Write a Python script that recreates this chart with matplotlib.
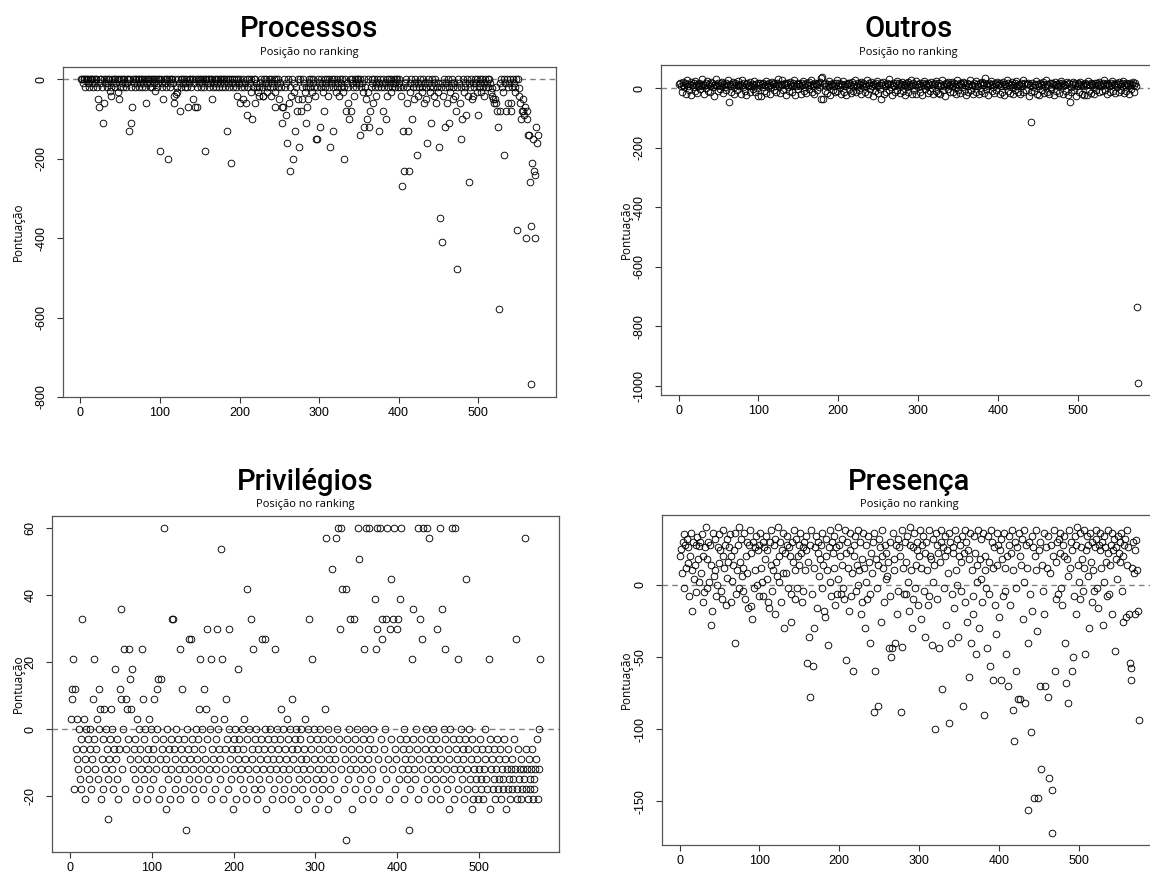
import matplotlib
matplotlib.use("Agg")
import matplotlib.pyplot as plt
import numpy as np

# pontuação por posição no ranking
processos = [
    0, 0, -10, 0, 0, -20, 0, 0, -10, 0, -20, 0, 0, -10, 0, -20, 0, -10, 0, 0, -20, -51, -71, 0, -10,
    0, -20, -111, 0, -61, -10, 0, -20, 0, -10, 0, -30, -20, -42, 0, -10, 0, -20, 0, -10, 0, -32, 0, -51, -20,
    0, -10, 0, -20, 0, -10, -20, 0, -10, 0, -131, 0, -20, -111, -71, 0, -10, 0, -20, 0, -10, 0, 0, -20, -10,
    0, -20, 0, -10, 0, -20, -61, 0, -10, 0, 0, -20, -10, 0, -20, 0, -10, 0, -30, 0, -20, -10, 0, 0, -181,
    0, -10, -20, -51, 0, -10, 0, -20, 0, -201, 0, -10, -20, 0, 0, -10, -61, -42, 0, -36, -20, -32, 0, -10, -81,
    0, -20, 0, -10, 0, -20, -10, 0, -20, -71, 0, -10, 0, -20, 0, -51, 0, -10, -71, 0, -71, -20, 0, -10, 0,
    -20, 0, -10, 0, -20, 0, -181, 0, -10, 0, -20, 0, -10, 0, -51, 0, -20, -10, 0, 0, -20, -10, 0, -20, 0,
    -10, 0, -20, 0, -10, 0, -20, 0, -131, 0, -10, -20, 0, -211, -10, 0, -20, 0, -10, 0, -20, -42, 0, -10, -61,
    0, -20, -10, -51, 0, -20, -10, -61, 0, -91, -20, 0, -10, -32, 0, -101, -20, 0, -61, 0, -10, -20, -32, -42, -20,
    -10, 0, -20, -42, -42, 0, -10, 0, -20, -32, -10, 0, -20, 0, -42, -10, -20, 0, -32, -71, 0, -10, -20, 0, -51,
    -10, -20, -71, -111, -71, 0, -20, -91, -10, -160, 0, -61, -231, -20, -42, 0, -201, -10, -32, -131, -20, -81, 0, -51, -171,
    0, -81, -20, -51, 0, -10, -32, -111, -20, -71, -51, 0, -10, -20, 0, -32, -10, 0, -20, -42, -151, -20, -151, 0, -10,
    -121, -20, 0, -10, -32, -81, 0, -20, -10, 0, -42, -20, 0, -171, -10, 0, -20, -131, 0, -10, -32, -20, 0, -10, -42,
    0, -20, -10, 0, -32, -201, -20, 0, -81, -10, -61, -20, -101, 0, -81, -10, 0, -20, -42, 0, -10, -20, 0, 0, -10,
    -141, 0, -20, -10, -32, 0, -121, -20, -51, -101, 0, -32, -121, -81, -20, 0, -10, -61, 0, -20, -10, -42, 0, -20, -10,
    -131, 0, -20, -10, -81, 0, -20, -10, -101, 0, -42, -20, 0, -10, -32, 0, -20, -10, 0, -20, -10, 0, 0, -20, -10,
    0, -20, -42, -270, -131, -20, -230, -10, 0, -61, -20, -131, -230, -10, -32, 0, -101, -20, -10, -51, 0, -20, -191, -10, -42,
    -20, 0, -10, -32, -20, 0, -61, -10, -20, -51, -160, 0, -10, -32, -20, -111, 0, -20, -10, -42, 0, -61, -20, -10, -32,
    -171, -349, -20, -10, -410, -42, 0, -121, -20, -10, -61, 0, -111, -20, -32, -10, 0, -51, -20, -10, -42, -81, -479, -20, 0,
    -10, -61, -151, -20, -101, 0, -32, -10, -20, -91, 0, -42, -260, -10, -20, 0, -51, -10, -42, -20, 0, -10, -32, 0, -91,
    -20, 0, -10, -32, 0, -20, -10, -42, 0, -20, -10, 0, -20, 0, -10, -32, -22, -42, -51, -61, -51, -61, -20, -81, -121,
    -579, -81, -10, 0, -20, -32, -191, 0, -10, -81, 0, -61, -20, -10, 0, -81, -61, -20, 0, -10, -20, -32, 0, -380, 0,
    -22, -42, -61, -101, -81, -51, -81, -91, -71, -400, -81, -101, -141, -141, -260, -768, -370, -211, -151, -230, -240, -400, -121, -160, -141,
]

outros = [
    14, 18, 9, -12, 22, 11, 5, 16, -18, 13, 27, 8, -6, 15, 20, -22, 12, 3, 17, -9, 24, 10, -15, 14, 6,
    19, -4, 12, 30, 8, 15, -20, 11, 2, 17, 25, -8, 13, 9, -14, 21, 16, 4, 12, -25, 14, 31, 7, -10, 18,
    12, -3, 16, 22, 9, -16, 14, 5, 19, -7, 11, 26, -47, 15, 8, -12, 13, 20, 3, -20, 17, 10, -5, 23, 12,
    7, 15, -18, 11, 28, 4, 16, -9, 13, -22, 18, 6, 12, -14, 21, 9, 15, -3, 25, 11, -11, 14, 2, 17, -26,
    10, 16, -26, 13, 5, 19, -8, 12, 24, -15, 14, 7, 17, -20, 11, 3, 22, 13, -6, 16, 9, -12, 18, 14, 31,
    8, -17, 15, 11, 26, -5, 13, 19, -22, 10, 16, 4, -10, 14, 21, 7, -13, 17, 12, 29, -24, 9, 15, -2, 18,
    13, 6, -19, 16, 11, 23, -8, 14, 3, -15, 17, 10, 20, -4, 12, 27, -11, 15, 8, -21, 18, 13, -7, 11, 16,
    5, 22, 35, -35, 37, -37, 14, -10, 19, 8, -16, 13, 24, 6, -23, 15, 11, -5, 18, 9, -13, 16, 28, -8, 12,
    17, 4, -20, 14, 10, 25, -12, 15, 7, -24, 13, 19, -3, 16, 11, -17, 21, 8, -9, 14, 26, -14, 12, 5, 18,
    -6, 15, 22, -21, 11, 17, 3, -13, 14, 9, 27, -18, 12, 16, -4, 20, 8, -25, 15, 13, -10, 18, 6, 23, -15,
    12, -2, 16, -35, 10, 21, -19, 14, 7, -11, 17, 13, 30, -7, 15, 4, -22, 12, 19, 9, -14, 16, 24, -5, 11,
    18, -16, 13, 6, 22, -9, 15, 11, -24, 17, 3, 20, -12, 14, 8, 28, -18, 12, 16, -6, 10, 23, -20, 15, 5,
    13, -13, 19, 9, -23, 16, 12, 25, -4, 14, 7, -17, 18, 11, -10, 21, 15, 2, -21, 13, 17, -8, 24, 10, -15,
    16, 6, -19, 12, 29, -7, 14, 9, -25, 18, 13, -3, 20, 11, -14, 15, 7, 22, -11, 17, 4, -20, 13, 26, -6,
    11, 18, -16, 14, 3, 21, -9, 16, 12, -22, 19, 8, -13, 15, 27, -5, 12, 10, -18, 17, 6, 24, -12, 14, 9,
    -21, 16, 13, -8, 20, 11, -15, 18, 33, -4, 14, 7, -23, 17, 12, 25, -10, 15, 5, -17, 19, 13, -7, 22, 10,
    14, -19, 16, 8, -12, 21, 13, -24, 15, 6, 28, -9, 18, 11, -16, 14, 3, 20, -21, 12, 17, -5, 23, 9, -13,
    15, 10, -20, 17, 7, 26, -11, 13, 19, -6, 14, 15, 16, -25, 12, -115, -14, 18, 4, -9, 15, 11, 24, -18, 13,
    6, -22, 17, 12, -7, 20, 14, -16, 9, 27, -12, 15, 11, -20, 18, 5, -4, 16, 13, -24, 10, 22, -10, 14, 8,
    19, -15, 12, 25, 16, 7, -19, 14, 11, -8, 21, 13, -22, 17, -47, 4, -11, 15, 20, -6, 12, 18, -25, 9, 16,
    13, -13, 22, 10, -20, 15, 6, -22, 18, 12, -22, 14, 25, -9, 11, 17, -16, 13, 3, -18, 19, 10, -7, 16, 12,
    21, -14, 15, 8, -10, 18, 13, 26, -5, 11, 16, -21, 14, 7, -12, 19, 10, 23, -8, 15, 12, -17, 17, 5, 14,
    -11, 20, 13, -6, 16, 9, 24, -15, 12, 18, -9, 14, 7, -19, 17, 11, -4, 15, 21, -13, 10, 16, 8, -735, -990,
]

privilegios = [
    3, 12, 9, 21, -18, 12, -6, -9, 3, -12, 0, -15, -3, -18, 33, -6, 3, -21, -9, 0, -12, -3, -15, -6, 0,
    -18, -9, 9, -3, 21, -12, -6, 3, -15, 0, 12, 6, -21, -9, -3, -18, 6, -12, 0, -6, -27, -15, -9, -3, 6,
    -12, 0, -18, -6, 18, -9, -15, -3, -21, -6, 12, 9, 36, -12, 0, 24, -18, 9, -6, 6, -3, 24, 15, -9, 6,
    18, -12, -6, -15, -3, -21, 3, -9, -18, 0, -6, -12, 24, 9, -3, -15, 0, -9, -21, -6, -12, 3, -18, 0, -9,
    -15, -6, 9, -3, -12, 12, 0, 15, -21, -9, 15, -6, -18, -3, 60, -12, -24, -9, 0, -15, -6, -21, -3, -12, 33,
    33, -6, -18, -9, 0, -15, -3, -12, 24, -21, -6, 12, -9, -18, -3, -12, -30, 0, -6, -15, 27, -9, 27, -3, -18,
    -12, -6, -21, 0, -9, -15, -3, 6, 21, -12, 0, -6, -18, 12, -9, 6, -3, 30, -15, -12, 0, -21, 21, -6, -9,
    3, -18, -3, -12, 30, 0, -6, -15, -9, 54, 21, -21, 3, -12, -6, 9, -3, -18, 0, 30, -9, -15, -6, -24, -3,
    -12, 0, -21, -6, 18, -9, -3, -15, -12, 0, -18, -6, 3, -9, -21, 42, -3, -12, 0, -15, 33, -6, -9, 24, -18,
    -3, -12, 0, -21, -6, -15, -9, -3, -18, 27, -12, -6, 0, 27, -24, -9, -3, -15, -12, 0, -6, -21, -9, -3, -18,
    24, -12, 0, -6, -15, -9, -3, 6, -21, -12, 0, -18, -6, -9, 3, -15, -3, -12, 0, -21, -6, 9, -9, -18, -3,
    0, -12, -6, -24, -15, -3, -9, 0, -18, -12, -6, 3, -21, -9, -15, 0, 33, -3, -12, -6, 21, -18, -9, 0, -24,
    -15, -3, -12, -6, -21, 0, -9, -18, -3, -15, -12, 6, 57, -6, -24, 0, -9, -18, -3, 48, -12, -6, -15, -9, 57,
    0, -21, 60, -3, 30, -12, 60, 42, -6, -18, -9, 42, -33, -3, -15, 0, 33, -12, -6, -24, -9, 33, -3, -18, -12,
    0, 60, 51, -6, -15, -9, -21, -3, 24, -12, 0, 60, -18, -6, -9, 60, -3, -15, -12, 0, -21, -6, 39, 24, 60,
    30, -9, -18, 60, -3, 27, 33, -12, -6, 0, -15, 33, 60, -9, -21, 30, -3, 45, -12, 33, 60, -6, -18, -9, 30,
    33, -15, -3, 39, 60, -12, -6, 0, -21, -9, -3, -15, -12, -30, -6, -18, -9, 21, -3, 36, -12, -15, 0, -6, -21,
    60, -9, 33, -3, 27, -12, 60, -18, -6, 0, 60, -15, -9, 57, -3, -12, -21, -6, 0, -9, -15, -18, -3, 30, -12,
    -6, -21, 60, -9, 36, -15, 0, -3, 24, -12, -18, -6, -9, -24, 0, -15, 60, -3, -12, -21, 60, -6, -9, -18, 21,
    -3, -12, 0, -15, -6, -9, -21, -3, 45, -18, -12, -6, 0, -15, -9, -24, -3, -21, -12, -18, -6, -15, -9, -21, -12,
    -3, -18, -15, -6, -21, -12, -9, 0, -15, -18, -6, 21, -24, -3, -12, -9, -18, -15, -6, -21, -12, -3, -18, -15, -9,
    -6, -21, -12, -18, -15, -3, -9, -24, -12, -18, -6, -15, -21, -12, -9, -18, -15, -3, -12, 27, -21, -18, -6, -15, -12,
    -9, -21, -18, -12, -15, 57, -6, -18, -12, -21, -9, -15, -18, -12, -6, -21, -15, -18, -12, -9, -3, -21, 0, -12, 21,
]

presenca = [
    20, 25, 8, 30, 35, -2, 28, 12, 32, 15, 26, -8, 20, 36, 10, -18, 30, 4, 14, -5, 28, 33, 18, 2, 27,
    30, 8, 35, 20, -12, -5, 26, 40, 18, -2, 30, 2, 28, 14, -28, -18, 36, 6, 10, 32, -8, 0, 26, 35, 15,
    24, -4, -10, 38, 20, 12, 28, -14, 32, 5, 16, 26, 35, -12, 20, 3, 14, 24, -40, 36, -6, 10, 28, 40, -2,
    16, 32, 6, -4, 12, 36, -10, 20, 30, 8, -16, 28, 38, -15, 22, -24, 30, -2, 26, 10, 34, 0, 24, -8, 28,
    36, 12, 2, 30, -8, 26, 18, 34, 4, 24, -12, -16, 30, 14, 38, -4, 10, 28, -20, 32, 16, 6, 40, 2, 20,
    30, -12, 24, 36, 8, -30, 22, 8, 28, 34, -2, 26, 20, -6, -26, 30, 16, 38, -10, 10, 32, -2, 20, 28, 14,
    36, 22, -12, 26, -4, 30, 10, 34, 24, -54, 16, -36, -78, 28, 38, -6, -56, 12, -30, 26, 34, -16, 22, 30, 6,
    18, 28, -2, 36, 14, -18, -22, 32, 20, 10, -42, 26, 38, 2, -8, 30, 22, 12, 34, -14, 26, -6, 40, 4, 28,
    20, -6, 32, 14, -2, -10, 38, -52, 22, 30, 12, -18, 24, 36, -8, 8, -60, 28, 20, 34, -4, 14, 0, 38, 10,
    30, -20, 18, -12, 36, 12, -30, 28, 2, -10, 34, 16, -6, -40, 22, 8, 30, -88, 36, -60, 18, -2, -84, 14, 32,
    26, -26, 20, 38, 12, -12, 28, 4, 22, 6, 16, -44, 30, -8, -50, -44, 36, 18, 10, -40, 28, -20, 32, -4, 26,
    20, -88, -43, 38, 12, -6, 30, -6, 16, 34, 2, -18, 28, 40, 10, -30, 26, -10, 36, -2, 14, 30, 24, -14, 20,
    38, 12, -24, 28, 34, -4, 22, -36, 30, 10, -14, 38, -8, 20, 18, -42, 32, 2, 14, -100, 36, 28, -10, 22, -44,
    16, 30, 38, -72, 26, -2, 20, 34, -28, 24, 8, -96, 36, 30, -40, -6, 26, 22, -16, 38, 10, 32, 0, -36, 20,
    28, -4, 16, 34, -84, 22, 38, -12, 30, -26, 24, -64, 18, 36, -40, 10, -8, -20, 34, 22, -48, 14, 2, 38, -30,
    18, 32, 4, -12, 36, -90, 20, 10, -2, -44, 34, 16, -6, -56, 38, 30, -66, 12, 26, -14, -34, 36, 14, 28, -22,
    24, 32, -66, 18, -8, 36, 12, -4, -48, 20, -70, 34, 28, -14, 22, 38, -87, 10, -108, 30, -2, -60, 26, -79, 36,
    20, -79, 14, 32, -24, 38, 2, -82, 28, 12, -40, -156, 30, -6, -102, 34, -18, 26, -148, 20, 10, 38, -32, -148, 24,
    30, -70, -128, 14, -4, 36, -20, -70, 26, 12, 34, -78, -134, 8, 28, -142, -172, 20, 38, -60, -10, 16, 30, -6, 32,
    22, 36, -2, -14, 28, 20, 34, -40, -68, 18, 6, -82, 38, 12, 30, -60, 24, -50, -8, 34, -20, 28, 40, 14, 2,
    36, -10, 26, 18, -4, 38, 12, -48, 24, 34, 6, 28, -30, 36, 16, -12, 30, 10, -4, 26, 38, 32, -2, -16, 28,
    36, 24, 12, 30, -28, 2, 34, 26, 16, -8, 38, 22, -6, 14, 28, -20, 36, 24, 32, -46, 18, 26, 4, 34, 22,
    30, 16, 36, -4, -26, 20, 28, 32, -22, 14, 38, 26, -20, -54, -58, -66, 12, 30, 8, 24, -20, 31, 10, -18, -94,
]

titles = ["Processos", "Outros", "Privilégios", "Presença"]
series = [processos, outros, privilegios, presenca]
yticks = [[0, -200, -400, -600, -800],
          [0, -200, -400, -600, -800, -1000],
          [-20, 0, 20, 40, 60],
          [-150, -100, -50, 0]]
xticks = [0, 100, 200, 300, 400, 500]

W, H = 1150, 881
# caixas dos gráficos em pixels: (esquerda, topo, direita, base)
boxes = [(63, 67, 556, 397), (661, 65, 1156, 395),
         (52, 516, 559, 852), (662, 515, 1157, 845)]
title_y = [37, 37, 490, 490]

fig = plt.figure(figsize=(W / 100, H / 100), dpi=100)
fig.patch.set_facecolor("white")

for k in range(4):
    x0, y0, x1, y1 = boxes[k]
    ax = fig.add_axes([x0 / W, 1 - y1 / H, (x1 - x0) / W, (y1 - y0) / H])
    vals = np.array(series[k], dtype=float)
    xs = np.arange(1, len(vals) + 1)
    ax.axhline(0, color="#808080", lw=1.0, ls=(0, (4, 3)), zorder=1)
    ax.plot(xs, vals, "o", mfc="none", mec="black", ms=4.8, mew=0.65, zorder=2)
    # limites ao estilo R (4% de folga)
    dx = 0.04 * (xs.max() - xs.min())
    dy = 0.04 * (vals.max() - vals.min())
    ax.set_xlim(xs.min() - dx, xs.max() + dx)
    ax.set_ylim(vals.min() - dy, vals.max() + dy)
    ax.set_xticks(xticks)
    ax.set_yticks(yticks[k])
    ax.set_xticklabels([str(t) for t in xticks], fontfamily="Liberation Sans")
    ax.set_yticklabels([str(t) for t in yticks[k]], rotation=90, va="center",
                       fontfamily="Liberation Sans")
    ax.tick_params(direction="out", length=4, width=0.8, colors="#333333",
                   labelsize=9, labelcolor="black")
    ax.tick_params(axis="y", pad=7)
    ax.tick_params(axis="x", pad=3)
    for s in ax.spines.values():
        s.set_color("#555555")
        s.set_linewidth(0.9)

    cx = (x0 + x1) / 2
    fig.text(cx / W, 1 - title_y[k] / H, titles[k], ha="center", va="baseline",
             fontsize=21, fontfamily="Roboto", fontweight="medium")
    fig.text(cx / W, 1 - (title_y[k] + 15) / H, "Posição no ranking", ha="center",
             va="center", fontsize=8, fontfamily="Open Sans")
    lx = 18 if k in (0, 2) else 626
    fig.text(lx / W, 1 - ((y0 + y1) / 2) / H, "Pontuação", rotation=90,
             ha="center", va="center", fontsize=8.5, fontfamily="Open Sans")

fig.savefig("out.png", dpi=100)
